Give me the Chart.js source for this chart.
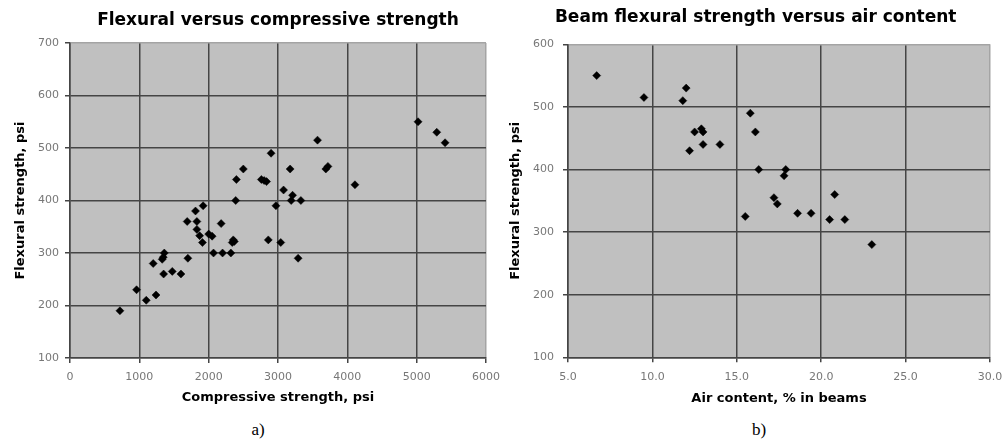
<!DOCTYPE html>
<html>
<head>
<meta charset="utf-8">
<script src="https://cdn.jsdelivr.net/npm/chart.js@4/dist/chart.umd.min.js"></script>
<style>
  html, body { margin: 0; padding: 0; background: #fff; }
  body { width: 1005px; height: 443px; position: relative; overflow: hidden; }
  canvas { position: absolute; top: 0; }
  .cap { position: absolute; font-family: 'Liberation Serif', 'Times New Roman', serif; font-size: 17px; color: #000; line-height: 20px; transform: translate(-50%, -50%); white-space: nowrap; }
</style>
</head>
<body>
<canvas id="c1" width="500" height="410" style="left:0px"></canvas>
<canvas id="c2" width="499" height="410" style="left:506px"></canvas>
<div class="cap" style="left:258px; top:430px;">a)</div>
<div class="cap" style="left:759px; top:430px;">b)</div>
<script>
// ---- Data: chart a) Flexural versus compressive strength ----
const compressiveStrength = [720,960,1100,1240,1200,1350,1330,1345,1360,1475,1600,1700,1690,1810,1830,1830,1870,1910,1920,2000,2050,2070,2180,2200,2320,2340,2355,2370,2390,2400,2500,2760,2800,2835,2860,2900,2970,3040,3080,3175,3210,3190,3290,3330,3570,3690,3720,4110,5020,5290,5410];
const flexuralStrengthA = [190,230,210,220,280,260,288,292,300,265,260,290,360,380,360,345,333,320,390,336,332,300,356,300,300,320,325,322,400,440,460,440,438,436,325,490,390,320,420,460,410,400,290,400,515,460,465,430,550,530,510];

// ---- Data: chart b) Beam flexural strength versus air content ----
const airContent = [6.7,9.5,12.0,11.8,12.5,12.9,13.0,13.0,12.2,14.0,15.8,16.1,16.3,15.5,17.2,17.4,17.8,17.9,18.6,19.4,20.5,20.8,21.4,23.0];
const flexuralStrengthB = [550,515,530,510,460,465,460,440,430,440,490,460,400,325,355,345,390,400,330,330,320,360,320,280];

// ---- Axis settings / labels ----
const titleA = 'Flexural versus compressive strength';
const titleB = 'Beam flexural strength versus air content';
const xTitleA = 'Compressive strength, psi';
const xTitleB = 'Air content, % in beams';
const yTitle = 'Flexural strength, psi';
const xRangeA = [0, 6000, 1000];
const yRangeA = [100, 700, 100];
const xRangeB = [5, 30, 5];
const yRangeB = [100, 600, 100];

const SANS = "'DejaVu Sans', Verdana, sans-serif";
const GRID = '#454545';
const EDGE = '#a4a4a4';
const TICKCOL = '#777';

const plotBg = {
  id: 'plotBg',
  beforeDraw(chart) {
    const {ctx, chartArea: a} = chart;
    ctx.save();
    ctx.fillStyle = '#c0c0c0';
    ctx.fillRect(a.left, a.top, a.right - a.left, a.bottom - a.top);
    ctx.restore();
  }
};

function makeChart(id, xs, ys, cfg) {
  const pts = xs.map((x, i) => ({x: x, y: ys[i]}));
  return new Chart(document.getElementById(id), {
    type: 'scatter',
    data: { datasets: [{
      data: pts,
      pointStyle: 'rectRot',
      pointRadius: 4,
      pointBackgroundColor: '#000',
      pointBorderColor: '#000',
      pointBorderWidth: 0.5
    }]},
    options: {
      responsive: false,
      animation: false,
      devicePixelRatio: 1,
      layout: { padding: cfg.padding },
      plugins: {
        legend: { display: false },
        tooltip: { enabled: false },
        title: {
          display: true,
          text: cfg.title,
          fullSize: cfg.fullSize,
          color: '#000',
          font: { family: SANS, size: 17, weight: 'bold' },
          padding: cfg.titlePad
        }
      },
      scales: {
        x: {
          type: 'linear',
          min: cfg.xr[0], max: cfg.xr[1],
          afterFit(s) { s.height = cfg.xAxisH; s.paddingLeft = 0; s.paddingRight = 0; },
          ticks: {
            stepSize: cfg.xr[2],
            color: TICKCOL,
            padding: 8,
            font: { family: SANS, size: 11 },
            maxRotation: 0,
            callback: cfg.xFmt
          },
          grid: {
            color: c => (c.tick && c.tick.value === cfg.xr[1]) ? EDGE : GRID,
            lineWidth: 1.5,
            tickLength: 5,
            tickColor: GRID
          },
          border: { display: true, color: GRID, width: 1.5 },
          title: {
            display: true, text: cfg.xTitle, color: '#000',
            font: { family: SANS, size: 13, weight: 'bold' },
            padding: { top: 0, bottom: 0 }
          }
        },
        y: {
          type: 'linear',
          min: cfg.yr[0], max: cfg.yr[1],
          afterFit(s) { s.width = cfg.yAxisW; s.paddingTop = 0; s.paddingBottom = 0; },
          ticks: {
            stepSize: cfg.yr[2],
            color: TICKCOL,
            padding: cfg.yTickPad,
            font: { family: SANS, size: 11 },
            callback: v => String(v)
          },
          grid: {
            color: c => (c.tick && c.tick.value === cfg.yr[1]) ? EDGE : GRID,
            lineWidth: 1.5,
            tickLength: 5,
            tickColor: GRID
          },
          border: { display: true, color: GRID, width: 1.5 },
          title: {
            display: true, text: yTitle, color: '#000',
            font: { family: SANS, size: 13, weight: 'bold' },
            padding: { top: cfg.yTitlePad, bottom: 0 }
          }
        }
      }
    },
    plugins: [plotBg]
  });
}

makeChart('c1', compressiveStrength, flexuralStrengthA, {
  title: titleA, fullSize: false,
  titlePad: { top: 10.5, bottom: 12.1 },
  padding: { left: 13, right: 14, top: 0, bottom: 4.5 },
  xr: xRangeA, yr: yRangeA,
  xAxisH: 47.5, yAxisW: 57, yTickPad: 6, yTitlePad: 0,
  xTitle: xTitleA,
  xFmt: v => String(v)
});

makeChart('c2', airContent, flexuralStrengthB, {
  title: titleB, fullSize: true,
  titlePad: { top: 7.8, bottom: 16.1 },
  padding: { left: 15.4, right: 15, top: 0, bottom: 3.6 },
  xr: xRangeB, yr: yRangeB,
  xAxisH: 49.1, yAxisW: 46.6, yTickPad: 9, yTitlePad: -13.7,
  xTitle: xTitleB,
  xFmt: v => Number(v).toFixed(1)
});
</script>
</body>
</html>
